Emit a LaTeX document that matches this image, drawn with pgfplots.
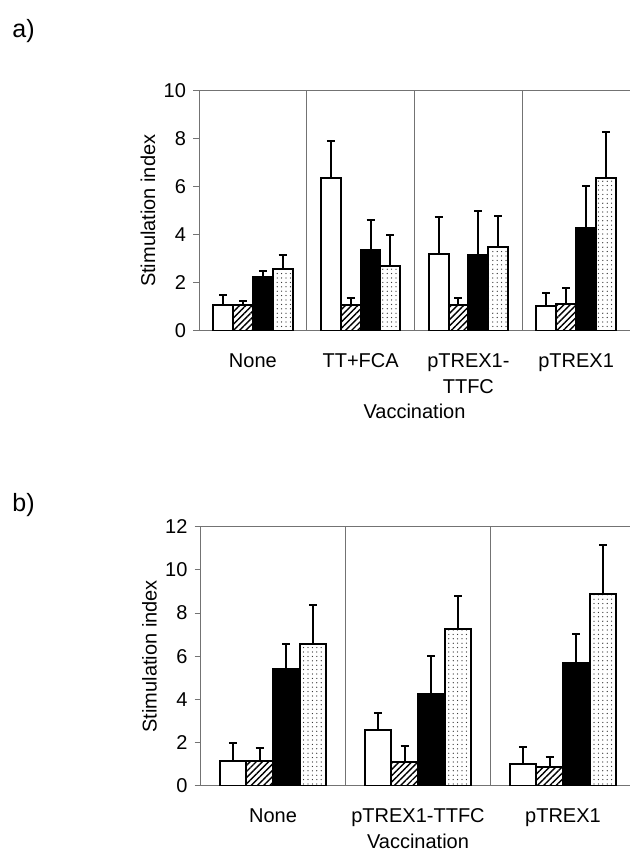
\documentclass[border=0pt]{standalone}
\usepackage{pgfplots}
\pgfplotsset{compat=1.18}
\usepackage{pgfplotstable}
\usepackage{fontspec}
\setmainfont{Liberation Sans}
\usetikzlibrary{patterns.meta}

\pgfplotstableread{
x      y     e
-0.276 1.07  0.43
0.724  6.37  1.54
1.724  3.20  1.53
2.724  1.03  0.55
}\aWhite
\pgfplotstableread{
x      y     e
-0.092 1.06  0.17
0.908  1.07  0.31
1.908  1.07  0.31
2.908  1.11  0.69
}\aHatch
\pgfplotstableread{
x      y     e
0.092  2.26  0.25
1.092  3.36  1.24
2.092  3.14  1.84
3.092  4.30  1.75
}\aBlack
\pgfplotstableread{
x      y     e
0.276  2.58  0.59
1.276  2.68  1.32
2.276  3.50  1.28
3.276  6.35  1.95
}\aDots

\pgfplotstableread{
x      y     e
-0.276 1.16  0.83
0.724  2.58  0.77
1.724  0.99  0.80
}\bWhite
\pgfplotstableread{
x      y     e
-0.092 1.15  0.58
0.908  1.08  0.77
1.908  0.86  0.46
}\bHatch
\pgfplotstableread{
x      y     e
0.092  5.40  1.15
1.092  4.24  1.75
2.092  5.68  1.36
}\bBlack
\pgfplotstableread{
x      y     e
0.276  6.56  1.83
1.276  7.27  1.54
2.276  8.89  2.26
}\bDots

\pgfplotsset{
  mypanel/.style={
    scale only axis,
    anchor=south west,
    ymin=0,
    xmin=-0.5,
    axis line style={black!55, line width=0.5pt},
    every tick/.style={black!55, line width=0.5pt},
    tick align=outside,
    xtick pos=bottom, ytick pos=left,
    major tick length=3pt,
    tick label style={font=\fontsize{10}{12}\selectfont},
    /pgf/number format/assume math mode=true,
    label style={font=\fontsize{10}{12}\selectfont},
    ylabel={Stimulation index},
    y label style={at={(axis description cs:0,0.5)}, anchor=center, rotate=0, yshift=25.5pt},
    xlabel={Vaccination},
    xtick={0,1,2,3},
    x tick style={draw=none},
    xticklabel style={anchor=north, align=center, font=\fontsize{10}{13}\selectfont, yshift=-5pt},
    extra x tick style={grid=major, major grid style={black!55, line width=0.5pt}, xticklabel=\empty, tick style={black!55, line width=0.5pt}},
    ybar, bar width=0.184, bar shift=0pt,
    error bars/y dir=plus, error bars/y explicit,
    error bars/error bar style={black, line width=1pt},
    error bars/error mark options={black, line width=1pt, mark size=2pt, rotate=90},
  },
  whitebar/.style={draw=black, line width=1pt, fill=white},
  hatchbar/.style={draw=black, line width=1pt, fill=white, postaction={pattern={Lines[angle=45,distance=2.2pt,line width=0.7pt]}}},
  blackbar/.style={draw=black, line width=1pt, fill=black},
  dotbar/.style={draw=black, line width=1pt, fill=white, postaction={pattern={Dots[distance=2.2pt,radius=0.32pt]}, pattern color=black!85}},
}

\begin{document}
\begin{tikzpicture}[x=1pt,y=1pt]
\node[anchor=west, font=\fontsize{12.5}{14}\selectfont, inner sep=0pt] at (6,409.5) {a)};
\node[anchor=west, font=\fontsize{12.5}{14}\selectfont, inner sep=0pt] at (6,172.5) {b)};

\begin{axis}[mypanel,
  at={(99.5pt,259.65pt)}, width=215.5pt, height=119.85pt,
  xmax=3.5, ymax=10, ytick={0,2,4,6,8,10},
  xticklabels={None, TT+FCA, {pTREX1-\\TTFC}, pTREX1},
  extra x ticks={-0.5,0.5,1.5,2.5,3.5},
  x label style={at={(axis description cs:0.5,0)}, anchor=center, yshift=-40.5pt},
]
\addplot[whitebar] table[x=x,y=y,y error=e] {\aWhite};
\addplot[hatchbar] table[x=x,y=y,y error=e] {\aHatch};
\addplot[blackbar] table[x=x,y=y,y error=e] {\aBlack};
\addplot[dotbar] table[x=x,y=y,y error=e] {\aDots};
\end{axis}

\begin{axis}[mypanel,
  at={(100.25pt,32.15pt)}, width=217.5pt, height=129.5pt,
  xmax=2.5, ymax=12, ytick={0,2,4,6,8,10,12},
  xticklabels={None, pTREX1-TTFC, pTREX1},
  extra x ticks={-0.5,0.5,1.5,2.5},
  x label style={at={(axis description cs:0.5,0)}, anchor=center, yshift=-28pt},
]
\addplot[whitebar] table[x=x,y=y,y error=e] {\bWhite};
\addplot[hatchbar] table[x=x,y=y,y error=e] {\bHatch};
\addplot[blackbar] table[x=x,y=y,y error=e] {\bBlack};
\addplot[dotbar] table[x=x,y=y,y error=e] {\bDots};
\end{axis}

\pgfresetboundingbox
\path[use as bounding box] (0,0) rectangle (315,425);
\end{tikzpicture}
\end{document}
